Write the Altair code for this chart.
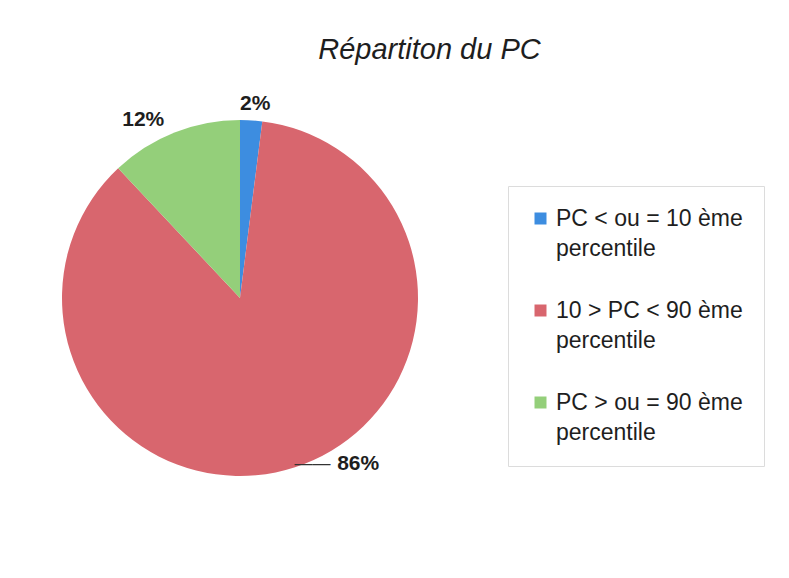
import altair as alt
import pandas as pd

categories = [
    "PC < ou = 10 ème percentile",
    "10 > PC < 90 ème percentile",
    "PC > ou = 90 ème percentile",
]
values = [2, 86, 12]
labels = ["2%", "86%", "12%"]
colors = ["#3d8de0", "#d8666e", "#94cf7a"]
order_idx = [0, 1, 2]

df = pd.DataFrame({"cat": categories, "val": values, "lab": labels, "idx": order_idx})

FONT = "Liberation Sans"
CX, CY = 232, 290
R = 178

theta = alt.Theta("val:Q", stack=True)
order = alt.Order("idx:Q")

arc = alt.Chart(df).mark_arc(outerRadius=R).encode(
    theta=theta,
    order=order,
    x=alt.value(CX),
    y=alt.value(CY),
    color=alt.Color(
        "cat:N",
        scale=alt.Scale(domain=categories, range=colors),
        legend=alt.Legend(
            title=None,
            orient="none",
            legendX=500,
            legendY=178,
            symbolType="square",
            symbolSize=144,
            symbolStrokeWidth=0,
            labelFont=FONT,
            labelFontSize=23,
            labelColor="#1e1e1e",
            labelLimit=400,
            labelOffset=4,
            labelExpr="[replace(datum.label, ' percentile', ''), 'percentile']",
            labelBaseline="middle",
            rowPadding=38,
            padding=21,
            strokeColor="#dcdcdc",
            fillColor="white",
        ),
    ),
)


def pct_label(i, r, dx, dy):
    return alt.Chart(df).mark_text(
        radius=r, dx=dx, dy=dy, font=FONT, fontSize=21, fontWeight="bold",
        color="#1e1e1e", baseline="middle", align="center",
    ).encode(
        theta=theta,
        order=order,
        x=alt.value(CX),
        y=alt.value(CY),
        text=alt.condition(f"datum.idx == {i}", "lab:N", alt.value("")),
    )


leader = alt.Chart(df).mark_text(
    radius=180, dx=17, dy=-5, font=FONT, fontSize=18, fontWeight="normal",
    color="#333333", baseline="middle", align="center",
).encode(
    theta=theta,
    order=order,
    x=alt.value(CX),
    y=alt.value(CY),
    text=alt.condition("datum.idx == 1", alt.value("——"), alt.value("")),
)

chart = alt.layer(
    arc,
    pct_label(0, 195, 3, 1),
    pct_label(2, 195, -25, 3),
    pct_label(1, 185, 61, -10),
    leader,
).properties(
    width=773,
    height=562,
    autosize=alt.AutoSizeParams(type="none"),
    padding=0,
    title=alt.TitleParams(
        text="Répartiton du PC",
        font=FONT,
        fontSize=29,
        fontStyle="italic",
        fontWeight="normal",
        color="#1e1e1e",
        anchor="middle",
        dx=35,
        offset=-80,
        baseline="alphabetic",
    ),
).configure(
    background="white",
    view=alt.ViewConfig(stroke=None),
    style={"guide-label": {"lineHeight": 30}},
)

chart.save("out.html", embed_options={"renderer": "svg", "actions": False})
